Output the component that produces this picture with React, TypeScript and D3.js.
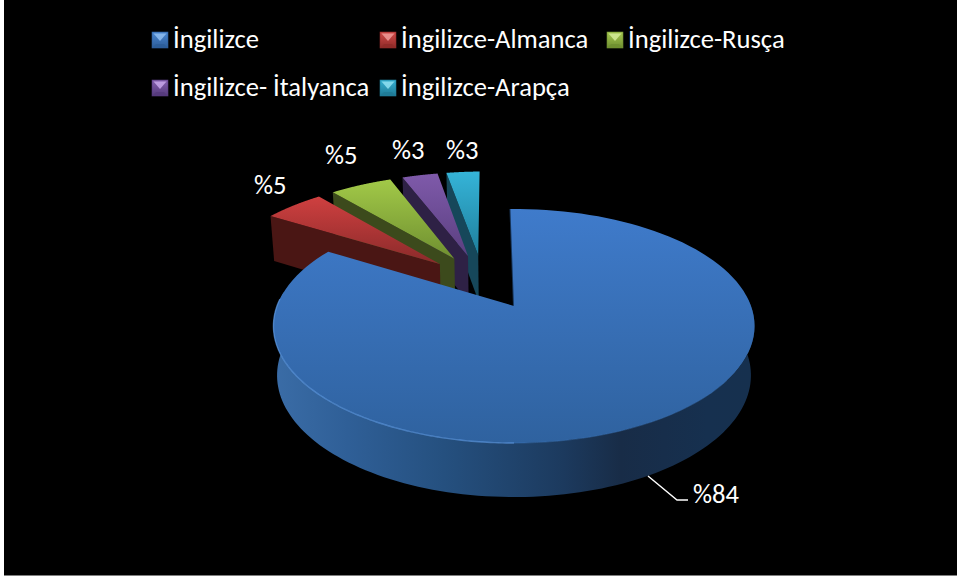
import React from "react";
import * as d3 from "d3";

const categories = ["İngilizce", "İngilizce-Almanca", "İngilizce-Rusça", "İngilizce- İtalyanca", "İngilizce-Arapça"];
const values = [84, 5, 5.2, 3, 2.8];
const labels = ["%84", "%5", "%5", "%3", "%3"];
const topColors = [["#3f7bcb", "#2f629f"], ["#cf4040", "#8a2a2a"], ["#a2c948", "#6f8f30"], ["#7f5aaa", "#5a3f80"], ["#35b4d8", "#1f7f9c"]];
const wallColors = ["#1e3f66", "#4a1614", "#3c4a1c", "#2e2145", "#16475a"];
const markerColors = [["#4a86d0", "#2c5c98", "#8fbdf0"], ["#d24a48", "#8e2a28", "#f09a98"], ["#a6c950", "#6e8e30", "#d5ec98"], ["#8460ae", "#553a7c", "#c8a8ea"], ["#35b0d2", "#1f7a96", "#90e0f2"]];
const legendX = [152, 380, 607, 152, 380];
const legendY = [40, 40, 40, 88, 88];
const labelPos: [number, number][] = [[693, 503], [254, 194], [325, 164], [392, 159], [446, 159]];

const W = 957, H = 581;
const APEX_X = 514, APEX_Y = 306, A = 237, B = 113.6, K = 0.171, EXPLODE = 0.26, START = -1;

// plane -> screen perspective projection
const px = (U: number, V: number) => APEX_X + (A * U) / (1 + K * V);
const py = (U: number, V: number) => APEX_Y - (B * V) / (1 + K * V);
// top surface -> bottom surface
const dx = (x: number) => 514 + (x - 514) * 0.985;
const dy = (y: number) => y + 45 + ((y - 217) * 9) / 226;

const pieData = d3.pie<number>().sort(null).startAngle((START * Math.PI) / 180).endAngle(2 * Math.PI + (START * Math.PI) / 180)(values);
const blueMid = (pieData[0].startAngle + pieData[0].endAngle) / 2;
const CU = -EXPLODE * Math.sin(blueMid), CV = -EXPLODE * Math.cos(blueMid);

type Pt = [number, number];
function apex(i: number): Pt {
  const m = (pieData[i].startAngle + pieData[i].endAngle) / 2;
  const U = CU + EXPLODE * Math.sin(m), V = CV + EXPLODE * Math.cos(m);
  return [px(U, V), py(U, V)];
}
function rim(i: number, t: number): Pt {
  const m = (pieData[i].startAngle + pieData[i].endAngle) / 2;
  const U = CU + EXPLODE * Math.sin(m) + Math.sin(t), V = CV + EXPLODE * Math.cos(m) + Math.cos(t);
  return [px(U, V), py(U, V)];
}
const arcPts = (i: number, a: number, b: number): Pt[] => d3.range(0, 121).map((k) => rim(i, a + ((b - a) * k) / 120));
const line = d3.line();
const bottom = (p: Pt): Pt => [dx(p[0]), dy(p[1])];

function Slice({ i }: { i: number }) {
  const d = pieData[i];
  const rimPts = arcPts(i, d.startAngle, d.endAngle);
  const c = apex(i);
  const top = line([c, ...rimPts])! + "Z";
  const o = rimPts[0];
  const wall = line([o, c, bottom(c), bottom(o)])! + "Z";
  return (
    <g transform="translate(-1.5,0)">
      <path d={wall} fill={wallColors[i]} />
      <path d={top} fill={`url(#top${i})`} />
    </g>
  );
}

function BlueSlice() {
  const d = pieData[0];
  const c = apex(0);
  const rimPts = arcPts(0, d.startAngle, d.endAngle);
  const sideTop = arcPts(0, Math.PI * 0.47, Math.PI * 1.54);
  const side = line([...sideTop, ...sideTop.map(bottom).reverse()])! + "Z";
  const edge = line(arcPts(0, Math.PI * 1.0, Math.PI * 1.52))!;
  const edgeTop = rim(0, d.startAngle);
  return (
    <g>
      <path d={side} fill="url(#blueSide)" />
      <path d={line([edgeTop, c])!} stroke="#17365c" strokeWidth={2} fill="none" />
      <path d={line([c, ...rimPts])! + "Z"} fill="url(#top0)" />
      <path d={edge} stroke="#5b97e0" strokeWidth={1.4} fill="none" opacity={0.7} />
      <path d={line(arcPts(0, Math.PI * 0.7, Math.PI * 1.0))!} stroke="#3f78bd" strokeWidth={1} fill="none" opacity={0.45} />
    </g>
  );
}

function Marker({ i }: { i: number }) {
  const x = legendX[i], y = legendY[i] - 8, s = 16;
  const [, b, lite] = markerColors[i];
  return (
    <g>
      <rect x={x} y={y} width={s} height={s} fill={`url(#mk${i})`} stroke={b} strokeWidth={0.6} />
      <path d={line([[x + 1.5, y + 1.5], [x + s - 1.5, y + 1.5], [x + s / 2, y + s / 2 + 1]])! + "Z"} fill={lite} opacity={0.85} />
      <path d={line([[x + 1, y + s - 1], [x + s - 1, y + s - 1], [x + s - 4, y + s - 4], [x + 4, y + s - 4]])! + "Z"} fill={b} opacity={0.8} />
    </g>
  );
}

const font = "Carlito, Lato, 'Open Sans', sans-serif";

export default function App() {
  const sideStops: [string, string][] = [["0", "#3a6ca6"], ["0.15", "#2f5f97"], ["0.35", "#25507f"], ["0.6", "#1c3a5e"], ["0.72", "#182c47"], ["0.9", "#16304f"], ["1", "#16304e"]];
  return (
    <svg width={W} height={H} viewBox={`0 0 ${W} ${H}`} style={{ position: "absolute", left: 0, top: 0, display: "block" }}>
      <defs>
        <linearGradient id="blueSide" gradientUnits="userSpaceOnUse" x1={276} x2={755} y1={0} y2={0}>
          {sideStops.map(([o, c]) => <stop key={o} offset={o} stopColor={c} />)}
        </linearGradient>
        {topColors.map((c, i) => (
          <linearGradient id={`top${i}`} key={i} x1="0" x2="0" y1="0" y2="1">
            <stop offset="0" stopColor={c[0]} />
            <stop offset="1" stopColor={c[1]} />
          </linearGradient>
        ))}
        {markerColors.map((c, i) => (
          <linearGradient id={`mk${i}`} key={i} x1="0" x2="0" y1="0" y2="1">
            <stop offset="0" stopColor={c[0]} />
            <stop offset="1" stopColor={c[1]} />
          </linearGradient>
        ))}
      </defs>
      <rect x={0} y={0} width={W} height={H} fill="#fff" />
      <rect x={4} y={0} width={W - 4} height={575.5} fill="#000" />
      {[4, 3, 2, 1].map((i) => <Slice key={i} i={i} />)}
      <BlueSlice />
      <path d={d3.line()([[648, 476], [677, 500], [688, 500]])!} stroke="#fff" strokeWidth={1.4} fill="none" />
      {categories.map((c, i) => (
        <g key={c}>
          <Marker i={i} />
          <text x={legendX[i] + 21} y={legendY[i] + 8} fill="#fff" fontFamily={font} fontSize={26.6}>{c}</text>
        </g>
      ))}
      {labels.map((l, i) => (
        <text key={i} x={labelPos[i][0]} y={labelPos[i][1]} fill="#fff" fontFamily={font} fontSize={26.6} textAnchor="start">{l}</text>
      ))}
    </svg>
  );
}
